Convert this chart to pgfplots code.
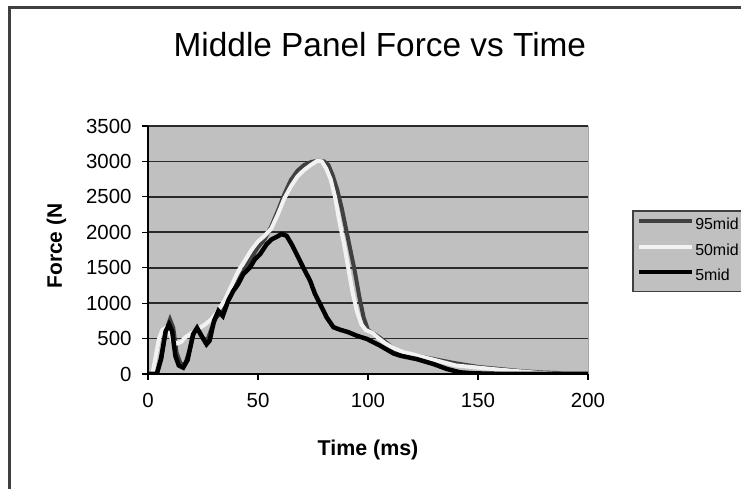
\documentclass[border=0pt]{standalone}
\usepackage{pgfplots}
\pgfplotsset{compat=1.18}
\usepackage{fontspec}
\setmainfont{Liberation Sans}
\definecolor{plotbg}{HTML}{C0C0C0}
\definecolor{framecol}{HTML}{404040}
\definecolor{gridcol}{HTML}{2A2A2A}
\definecolor{s95}{HTML}{404040}
\definecolor{s50}{HTML}{F2F2F2}
\definecolor{s5}{HTML}{000000}
\begin{document}
\begin{tikzpicture}[x=1bp,y=1bp]
\path[use as bounding box] (0,0) rectangle (741,489);
\clip (0,0) rectangle (741,489);
\fill[white] (0,0) rectangle (741,489);
\draw[line width=3bp, framecol] (9.5,-10) -- (9.5,481.5) -- (760,481.5);
\begin{axis}[
  at={(148bp,115bp)}, anchor=south west,
  scale only axis, width=440bp, height=248bp,
  xmin=0, xmax=200, ymin=0, ymax=3500,
  xtick={0,50,100,150,200},
  ytick={0,500,1000,1500,2000,2500,3000,3500},
  axis lines*=left,
  axis line style={-, black, line width=1.3bp},
  axis background/.style={fill=plotbg, draw=gray!70, line width=0.8bp},
  tick align=outside,
  major tick length=6bp,
  tick style={black, line width=1.1bp},
  ymajorgrids,
  grid style={gridcol, line width=1.7bp},
  /pgf/number format/assume math mode=true,
  /pgf/number format/1000 sep={},
  ticklabel style={font=\fontsize{20.5}{22}\selectfont},
  xticklabel style={yshift=-10bp},
  yticklabel style={xshift=-7bp},
  every axis title/.style={at={(axis description cs:0.527,1.327)}, anchor=center, font=\fontsize{33.5}{36}\selectfont},
  title={Middle Panel Force vs Time},
  every axis x label/.style={at={(axis description cs:0.5,-0.327)}, anchor=base, font=\fontsize{21.5}{24}\selectfont\bfseries},
  every axis y label/.style={at={(axis description cs:-0.196,0.516)}, rotate=90, anchor=base, font=\fontsize{21}{24}\selectfont\bfseries},
  xlabel={Time (ms)},
  ylabel={Force (N},
  legend style={at={(axis description cs:1.1,0.661)}, anchor=north west,
    draw=framecol, line width=1.5bp, fill=plotbg,
    font=\fontsize{16}{18}\selectfont,
    inner xsep=4bp, inner ysep=2bp,
    nodes={inner xsep=1bp, inner ysep=4bp, text height=13bp, text depth=4.5bp},
    /tikz/every even column/.append style={column sep=1bp},
    cells={anchor=west}},
  legend image code/.code={\draw[#1] (0bp,4.5bp) -- (53bp,4.5bp);},
]
\addplot[s95, line width=4bp] coordinates {
(0,0)(4,0)(6,200)(8,600)(10,770)(11.5,650)(13,300)(15,130)(17,150)(19,350)(21,600)(23,620)(25,500)(27,480)(29,650)(31,800)(33,850)(35,950)(38,1150)(41,1320)(44,1480)(47,1640)(50,1790)(53,1900)(56,2080)(59,2300)(62,2540)(65,2740)(68,2870)(71,2950)(74,2990)(77,3010)(80,3000)(82,2950)(84,2800)(86,2600)(88,2350)(90,2050)(92,1750)(94,1450)(96,1100)(98,800)(100,620)(102,580)(105,520)(108,450)(112,350)(116,300)(120,270)(130,210)(140,150)(150,100)(160,70)(170,40)(180,20)(186,15)(190,0)(200,0)
};
\addlegendentry{95mid}
\addplot[s50, line width=4bp] coordinates {
(0,0)(2,0)(3.5,250)(5,500)(6.5,620)(8,650)(9.5,600)(11,480)(13,430)(15,450)(17,520)(19,560)(21,600)(23,640)(26,700)(29,780)(32,900)(35,1050)(38,1250)(41,1450)(44,1600)(47,1750)(50,1870)(53,1950)(56,2050)(59,2250)(62,2480)(65,2650)(68,2790)(71,2880)(74,2950)(77,3010)(79,3000)(81,2900)(83,2750)(85,2500)(87,2150)(89,1850)(91,1500)(93,1150)(95,880)(97,700)(99,620)(102,580)(105,500)(108,430)(112,360)(116,310)(120,280)(125,240)(130,200)(135,160)(140,120)(150,90)(160,60)(170,35)(178,15)(185,5)(200,0)
};
\addlegendentry{50mid}
\addplot[s5, line width=4.5bp] coordinates {
(0,0)(4,0)(6,230)(8,600)(9.6,700)(11,600)(12.5,250)(14,120)(16,90)(18,200)(20.5,560)(22.3,650)(24.3,540)(26.6,420)(28,470)(30,750)(32,890)(34,820)(36.4,1030)(38.7,1170)(41,1270)(43.3,1410)(46.3,1500)(48.6,1620)(50.9,1690)(53.9,1830)(56.2,1900)(58.5,1935)(60.7,1975)(63,1950)(65.3,1830)(67.6,1690)(70.6,1500)(73.7,1315)(75.9,1130)(78.2,990)(81.2,800)(84.3,660)(87.3,625)(91.1,590)(94.9,540)(99.5,495)(105.5,400)(111.6,290)(114.7,258)(122.2,210)(129.8,140)(135.9,70)(142,23)(148,9)(163,0)(200,0)
};
\addlegendentry{5mid}
\end{axis}
\end{tikzpicture}
\end{document}
